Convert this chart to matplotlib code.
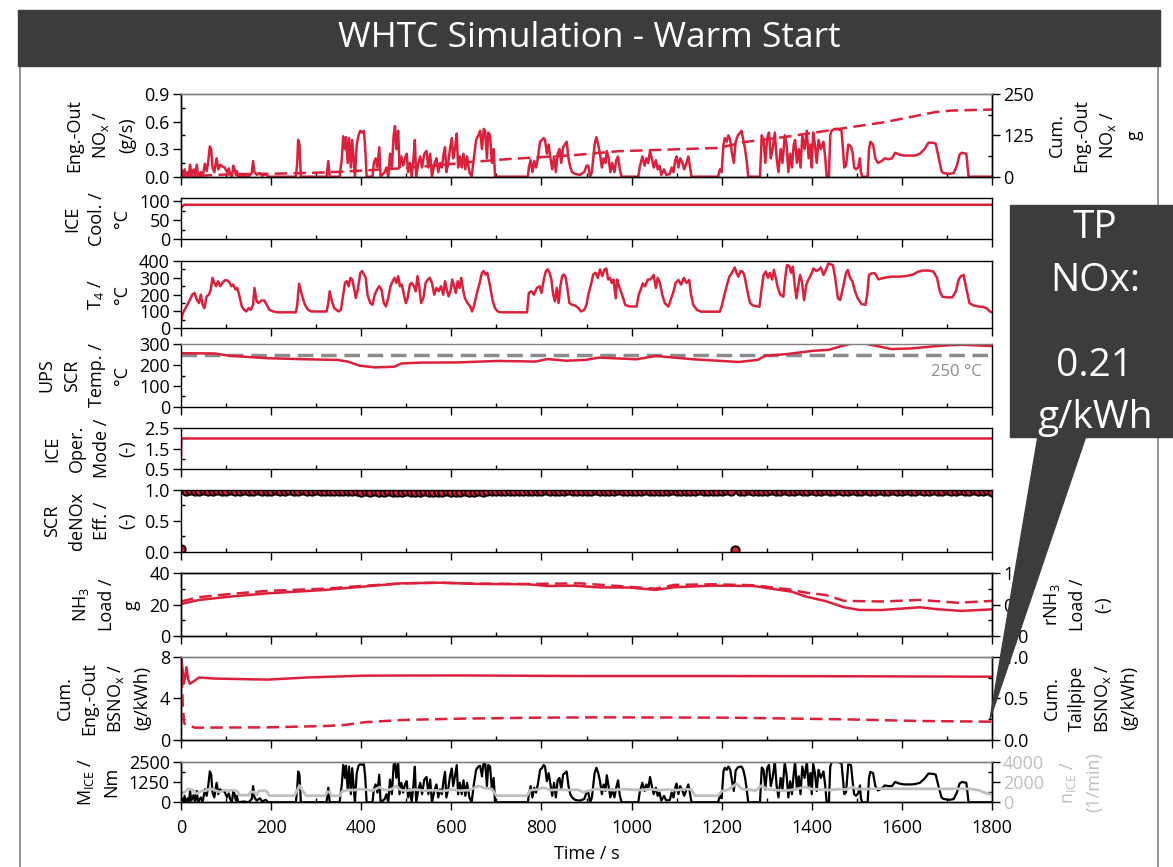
import matplotlib
matplotlib.use('Agg')
import matplotlib.pyplot as plt
import numpy as np
from matplotlib.patches import Rectangle, Polygon
from matplotlib.lines import Line2D
from matplotlib.ticker import MultipleLocator, FormatStrFormatter

# ---- data (time in s) ----

# engine-out NOx (g/s) and engine torque (Nm) share one time base
cyc_t = [0, 3, 5, 8, 11, 15, 18, 20, 23, 28,
         31, 35, 38, 44, 48, 53, 57, 60, 64, 67,
         70, 74, 79, 83, 87, 92, 97, 102, 106, 109,
         113, 116, 119, 122, 124, 127, 140, 150, 157, 160,
         163, 168, 175, 180, 188, 194, 255, 258, 260, 263,
         266, 323, 327, 330, 352, 357, 360, 364, 366, 370,
         373, 377, 380, 383, 386, 390, 394, 398, 402, 406,
         409, 412, 425, 428, 432, 436, 440, 443, 452, 456,
         460, 464, 468, 472, 475, 478, 482, 485, 489, 493,
         497, 501, 504, 508, 512, 516, 519, 522, 527, 531,
         535, 540, 545, 549, 553, 557, 563, 567, 571, 575,
         579, 583, 586, 589, 593, 597, 601, 604, 608, 612,
         615, 619, 623, 627, 631, 635, 640, 645, 650, 655,
         660, 664, 668, 672, 675, 679, 682, 686, 690, 694,
         697, 770, 772, 776, 780, 784, 788, 792, 797, 801,
         805, 808, 812, 816, 820, 824, 828, 832, 836, 840,
         844, 848, 852, 856, 860, 864, 868, 875, 885, 895,
         900, 904, 908, 912, 918, 922, 926, 930, 934, 938,
         942, 945, 949, 953, 957, 962, 966, 970, 974, 978,
         1015, 1018, 1024, 1029, 1033, 1037, 1041, 1045, 1049, 1054,
         1058, 1062, 1066, 1072, 1077, 1085, 1089, 1093, 1097, 1100,
         1104, 1108, 1113, 1117, 1122, 1126, 1130, 1133, 1192, 1196,
         1200, 1204, 1207, 1211, 1215, 1219, 1223, 1227, 1231, 1236,
         1241, 1244, 1248, 1252, 1256, 1259, 1285, 1289, 1293, 1297,
         1301, 1305, 1309, 1313, 1318, 1322, 1326, 1331, 1335, 1340,
         1344, 1348, 1352, 1356, 1360, 1363, 1367, 1371, 1375, 1379,
         1384, 1389, 1393, 1397, 1400, 1403, 1407, 1411, 1415, 1420,
         1426, 1430, 1433, 1438, 1441, 1444, 1450, 1458, 1466, 1470,
         1472, 1476, 1481, 1487, 1491, 1494, 1498, 1503, 1507, 1509,
         1512, 1524, 1527, 1530, 1536, 1541, 1547, 1555, 1562, 1570,
         1578, 1585, 1595, 1605, 1620, 1629, 1640, 1650, 1659, 1668,
         1675, 1682, 1688, 1692, 1705, 1715, 1722, 1728, 1733, 1743,
         1746, 1748, 1760, 1800]

nox_v = [0.0, 0.06, 0.0, 0.08, 0.0, 0.05, 0.0, 0.13, 0.02, 0.08,
         0.0, 0.13, 0.0, 0.05, 0.0, 0.14, 0.06, 0.15, 0.33, 0.30,
         0.10, 0.05, 0.20, 0.08, 0.13, 0.11, 0.10, 0.05, 0.09, 0.03,
         0.0, 0.12, 0.08, 0.02, 0.06, 0.0, 0.01, 0.0, 0.04, 0.17,
         0.05, 0.02, 0.04, 0.01, 0.03, 0.0, 0.0, 0.15, 0.40, 0.35,
         0.0, 0.0, 0.17, 0.0, 0.0, 0.20, 0.44, 0.30, 0.43, 0.15,
         0.42, 0.10, 0.40, 0.20, 0.0, 0.35, 0.45, 0.50, 0.48, 0.50,
         0.30, 0.0, 0.0, 0.15, 0.20, 0.10, 0.32, 0.0, 0.05, 0.10,
         0.0, 0.25, 0.10, 0.45, 0.55, 0.30, 0.50, 0.10, 0.22, 0.12,
         0.20, 0.25, 0.05, 0.15, 0.0, 0.20, 0.40, 0.0, 0.15, 0.22,
         0.10, 0.25, 0.28, 0.10, 0.25, 0.0, 0.15, 0.20, 0.05, 0.15,
         0.10, 0.25, 0.32, 0.05, 0.15, 0.30, 0.42, 0.20, 0.30, 0.47,
         0.10, 0.22, 0.10, 0.25, 0.08, 0.22, 0.05, 0.0, 0.20, 0.40,
         0.45, 0.50, 0.30, 0.52, 0.50, 0.20, 0.48, 0.45, 0.15, 0.30,
         0.0, 0.0, 0.10, 0.18, 0.05, 0.17, 0.10, 0.20, 0.38, 0.40,
         0.42, 0.40, 0.25, 0.35, 0.20, 0.08, 0.22, 0.05, 0.25, 0.30,
         0.15, 0.32, 0.35, 0.38, 0.20, 0.10, 0.05, 0.03, 0.02, 0.05,
         0.12, 0.12, 0.0, 0.05, 0.35, 0.43, 0.35, 0.25, 0.10, 0.20,
         0.15, 0.28, 0.20, 0.05, 0.15, 0.05, 0.18, 0.22, 0.08, 0.0,
         0.0, 0.10, 0.22, 0.12, 0.20, 0.15, 0.28, 0.20, 0.10, 0.18,
         0.08, 0.12, 0.02, 0.08, 0.02, 0.03, 0.10, 0.05, 0.18, 0.22,
         0.10, 0.20, 0.15, 0.08, 0.15, 0.22, 0.10, 0.0, 0.0, 0.08,
         0.05, 0.35, 0.42, 0.38, 0.45, 0.40, 0.25, 0.15, 0.38, 0.45,
         0.48, 0.50, 0.40, 0.30, 0.15, 0.0, 0.0, 0.45, 0.40, 0.15,
         0.42, 0.48, 0.20, 0.30, 0.48, 0.20, 0.05, 0.30, 0.15, 0.45,
         0.35, 0.05, 0.25, 0.10, 0.35, 0.40, 0.15, 0.30, 0.10, 0.45,
         0.30, 0.50, 0.20, 0.35, 0.10, 0.48, 0.35, 0.15, 0.40, 0.30,
         0.38, 0.20, 0.0, 0.0, 0.45, 0.50, 0.52, 0.52, 0.50, 0.25,
         0.10, 0.12, 0.35, 0.33, 0.25, 0.10, 0.08, 0.10, 0.20, 0.05,
         0.0, 0.0, 0.30, 0.38, 0.35, 0.20, 0.15, 0.17, 0.20, 0.19,
         0.20, 0.26, 0.24, 0.23, 0.23, 0.23, 0.25, 0.30, 0.37, 0.37,
         0.36, 0.20, 0.06, 0.04, 0.03, 0.04, 0.12, 0.24, 0.26, 0.25,
         0.10, 0.0, 0.0, 0.0]

torque_v = [0, 300, 0, 400, 0, 250, 50, 700, 100, 450,
            0, 700, 0, 300, 0, 800, 400, 900, 1900, 1700,
            600, 300, 1200, 500, 800, 700, 650, 300, 550, 200,
            0, 700, 500, 100, 400, 0, 50, 0, 200, 1000,
            300, 100, 250, 50, 150, 0, 0, 900, 1900, 1700,
            0, 0, 900, 0, 0, 1100, 2300, 1500, 2250, 800,
            2200, 500, 2100, 1000, 0, 1800, 2250, 2350, 2300, 2350,
            1500, 0, 0, 800, 1100, 600, 1700, 0, 200, 500,
            0, 1400, 500, 2300, 2500, 1500, 2450, 500, 1200, 600,
            1100, 1300, 300, 800, 0, 1100, 2190, 0, 800, 1200,
            500, 1400, 1560, 500, 1400, 0, 800, 1100, 300, 800,
            500, 1400, 1875, 300, 800, 1600, 2080, 1000, 1600, 2290,
            500, 1200, 500, 1350, 400, 1200, 300, 0, 1100, 2000,
            2200, 2250, 1600, 2500, 2500, 1000, 2300, 2200, 800, 1500,
            0, 0, 500, 1000, 300, 900, 600, 1100, 2000, 2100,
            2290, 2200, 1300, 1800, 1100, 400, 1200, 300, 1350, 1500,
            800, 1700, 1800, 1900, 1000, 500, 300, 150, 100, 200,
            600, 600, 0, 300, 1800, 2125, 1800, 1300, 500, 1100,
            700, 1670, 1000, 300, 800, 300, 900, 1350, 400, 0,
            0, 600, 1200, 700, 1100, 800, 1560, 1000, 500, 900,
            400, 600, 100, 400, 100, 150, 600, 300, 900, 1150,
            500, 1000, 700, 400, 800, 1100, 500, 0, 0, 400,
            250, 1900, 2125, 2000, 2200, 2000, 1300, 700, 1950, 2150,
            2190, 2200, 2000, 1500, 700, 0, 0, 2150, 2000, 800,
            2100, 2300, 1000, 1500, 2500, 1000, 300, 1500, 800, 2450,
            1700, 300, 1300, 500, 1800, 2500, 800, 1600, 500, 2200,
            1500, 2500, 1000, 1800, 500, 2400, 1800, 700, 2000, 1500,
            1900, 1000, 0, 0, 2200, 2460, 2500, 2480, 2400, 1200,
            500, 600, 2330, 2300, 1200, 500, 400, 550, 1040, 250,
            0, 0, 1500, 1875, 1800, 1000, 730, 850, 1040, 1000,
            1000, 1250, 1150, 1100, 1100, 1120, 1200, 1450, 1770, 1750,
            1710, 900, 300, 210, 150, 200, 600, 1150, 1250, 1200,
            500, 0, 0, 0]

# cumulative engine-out NOx (g)
cum_t = [0, 20, 70, 131, 206, 300, 353, 464, 575, 649, 723, 871, 970, 1193,
         1252, 1340, 1414, 1488, 1562, 1636, 1673, 1710, 1800]
cum_v = [0, 1, 5, 8, 9, 12, 15, 23, 35, 45, 53, 65, 77, 87,
         105, 120, 135, 150, 165, 185, 195, 200, 203]

# coolant temperature (degC)
cool_t = [0, 4, 8, 1800]
cool_v = [82, 88, 91, 91]

# exhaust temperature T4 (degC)
t4_t = [0, 3, 6, 12, 20, 25, 30, 35, 40, 44,
        48, 52, 57, 62, 66, 70, 74, 78, 82, 87,
        92, 97, 103, 108, 112, 116, 121, 125, 129, 135,
        140, 145, 150, 155, 160, 163, 168, 172, 178, 185,
        190, 196, 205, 215, 255, 258, 262, 268, 275, 282,
        290, 323, 327, 330, 335, 340, 350, 355, 360, 364,
        368, 372, 376, 380, 384, 388, 393, 398, 402, 406,
        410, 414, 420, 425, 430, 435, 440, 445, 450, 455,
        460, 465, 470, 474, 478, 482, 486, 490, 494, 499,
        503, 508, 512, 517, 521, 525, 529, 533, 538, 543,
        548, 552, 557, 562, 567, 572, 577, 582, 586, 590,
        594, 598, 602, 606, 610, 614, 618, 622, 626, 630,
        636, 642, 646, 650, 656, 662, 668, 672, 676, 680,
        686, 692, 697, 703, 710, 768, 772, 778, 783, 790,
        796, 800, 806, 810, 814, 818, 822, 826, 830, 834,
        838, 842, 846, 850, 854, 858, 862, 868, 875, 882,
        888, 895, 900, 904, 910, 915, 920, 925, 930, 935,
        940, 944, 948, 952, 956, 960, 965, 968, 972, 978,
        986, 995, 1005, 1011, 1016, 1020, 1025, 1030, 1036, 1042,
        1049, 1054, 1058, 1063, 1068, 1074, 1082, 1088, 1092, 1098,
        1104, 1110, 1116, 1122, 1128, 1132, 1137, 1145, 1154, 1196,
        1200, 1205, 1211, 1217, 1223, 1229, 1233, 1237, 1242, 1246,
        1250, 1255, 1263, 1270, 1278, 1284, 1288, 1293, 1298, 1303,
        1307, 1312, 1316, 1320, 1324, 1330, 1337, 1341, 1345, 1350,
        1354, 1358, 1362, 1366, 1370, 1374, 1378, 1383, 1388, 1392,
        1397, 1404, 1410, 1416, 1420, 1426, 1430, 1437, 1442, 1447,
        1452, 1458, 1463, 1470, 1476, 1480, 1485, 1490, 1496, 1502,
        1510, 1519, 1523, 1527, 1533, 1540, 1548, 1560, 1577, 1595,
        1611, 1625, 1635, 1645, 1660, 1670, 1678, 1684, 1690, 1700,
        1712, 1720, 1726, 1731, 1737, 1742, 1750, 1760, 1771, 1780,
        1788, 1796, 1800]
t4_v = [40, 80, 100, 130, 170, 200, 210, 170, 150, 200,
        140, 120, 190, 200, 230, 300, 270, 250, 280, 250,
        270, 285, 285, 270, 250, 260, 230, 240, 200, 130,
        110, 100, 120, 110, 140, 240, 160, 150, 165, 165,
        140, 110, 100, 95, 95, 140, 265, 200, 140, 110,
        100, 100, 150, 220, 160, 120, 100, 110, 200, 270,
        280, 250, 300, 290, 240, 180, 240, 330, 340, 320,
        300, 200, 150, 140, 200, 230, 250, 230, 150, 130,
        180, 250, 280, 300, 270, 310, 250, 260, 210, 150,
        180, 260, 270, 250, 220, 310, 240, 150, 180, 270,
        290, 300, 270, 200, 240, 220, 250, 200, 280, 230,
        190, 220, 290, 250, 210, 280, 240, 300, 230, 180,
        150, 130, 100, 130, 200, 260, 330, 340, 320, 330,
        250, 160, 120, 100, 95, 95, 210, 220, 200, 240,
        250, 210, 300, 340, 350, 330, 290, 200, 160, 240,
        150, 250, 310, 320, 300, 230, 150, 140, 135, 120,
        100, 110, 140, 200, 260, 320, 330, 300, 350, 310,
        350, 356, 290, 300, 270, 290, 178, 290, 250, 208,
        139, 130, 130, 129, 200, 228, 267, 250, 290, 290,
        317, 240, 300, 270, 200, 149, 129, 180, 208, 270,
        287, 260, 300, 270, 287, 200, 139, 110, 99, 99,
        130, 188, 250, 307, 330, 362, 330, 307, 340, 337,
        320, 250, 149, 135, 130, 129, 220, 317, 337, 300,
        330, 290, 347, 300, 248, 200, 188, 300, 376, 370,
        330, 366, 260, 178, 250, 317, 280, 168, 260, 287,
        310, 356, 340, 350, 362, 317, 340, 386, 380, 376,
        300, 178, 168, 250, 330, 347, 300, 280, 220, 178,
        145, 139, 200, 317, 327, 327, 291, 300, 307, 307,
        311, 320, 335, 343, 343, 337, 300, 220, 188, 184,
        184, 220, 290, 310, 317, 250, 149, 135, 129, 128,
        119, 99, 95]

# upstream SCR temperature (degC)
scr_t = [0, 74, 108, 193, 278, 346, 370, 397, 431, 473, 490, 533, 617, 702,
         787, 813, 855, 898, 927, 1011, 1053, 1137, 1238, 1280, 1297, 1345,
         1404, 1437, 1462, 1487, 1519, 1577, 1620, 1679, 1729, 1796, 1800]
scr_v = [257, 256, 245, 233, 228, 225, 217, 197, 189, 192, 208, 212, 213, 220,
         217, 229, 221, 225, 236, 228, 244, 228, 215, 225, 245, 253,
         269, 273, 289, 303, 303, 277, 280, 292, 298, 292, 292]
scr_limit = 250

# engine operating mode (-)
mode_t = [0, 1, 1800]
mode_v = [1.0, 2.0, 2.0]

# SCR deNOx efficiency, one value every 10 s
eff_t = np.arange(0, 1801, 10)
eff_v = [0.05, 0.99, 1.00, 0.99, 0.99, 1.00, 0.99, 0.99, 1.00, 0.99, 0.99, 1.00, 0.99, 0.99, 1.00, 0.99, 0.99, 1.00, 0.99, 0.99,
         0.99, 1.00, 0.99, 0.99, 1.00, 0.99, 0.99, 1.00, 0.99, 0.99, 1.00, 0.99, 0.99, 0.99, 0.98, 0.99, 0.99, 0.98, 0.98, 0.99,
         0.97, 0.98, 0.97, 0.98, 0.96, 0.97, 0.98, 0.97, 0.96, 0.97, 0.98, 0.97, 0.96, 0.97, 0.98, 0.97, 0.97, 0.96, 0.97, 0.98,
         0.97, 0.96, 0.97, 0.98, 0.97, 0.97, 0.98, 0.97, 0.98, 0.98, 0.99, 0.98, 0.99, 0.99, 0.98, 0.99, 0.99, 0.98, 0.99, 0.99,
         0.99, 1.00, 0.99, 0.99, 0.98, 0.99, 1.00, 0.99, 0.99, 0.98, 0.99, 0.99, 1.00, 0.99, 0.98, 0.99, 0.99, 1.00, 0.99, 0.99,
         0.98, 0.99, 0.99, 1.00, 0.99, 0.99, 0.98, 0.99, 0.99, 1.00, 0.99, 0.99, 0.98, 0.99, 0.99, 1.00, 0.99, 0.99, 0.98, 0.99,
         0.99, 1.00, 0.99, 0.03, 0.99, 0.99, 1.00, 0.99, 0.99, 0.98, 0.99, 1.00, 0.99, 0.99, 1.00, 0.99, 0.99, 1.00, 0.99, 0.99,
         1.00, 0.99, 0.99, 1.00, 0.99, 0.99, 1.00, 0.99, 0.99, 1.00, 0.99, 0.99, 1.00, 0.99, 0.99, 1.00, 0.99, 0.99, 1.00, 0.99,
         0.99, 1.00, 0.99, 0.99, 1.00, 0.99, 0.99, 1.00, 0.99, 0.99, 1.00, 0.99, 0.99, 1.00, 0.99, 0.99, 1.00, 0.99, 0.99, 1.00,
         0.97]

# NH3 load (g) and relative NH3 load (-)
nh3_t = [0, 40, 108, 193, 320, 405, 490, 575, 660, 770, 813, 872, 930, 995, 1053,
         1095, 1179, 1271, 1305, 1355, 1388, 1430, 1472, 1506, 1556, 1640, 1682, 1732, 1800]
nh3_v = [20.4, 23.0, 25.1, 27.2, 29.4, 31.5, 33.6, 34.0, 33.2, 33.0, 31.9, 32.1, 31.0, 30.9, 29.4,
         31.1, 32.1, 31.9, 30.4, 28.3, 25.1, 22.3, 18.3, 16.6, 16.6, 18.3, 17.0, 16.0, 17.0]
rnh3_t = [0, 40, 108, 193, 320, 405, 490, 575, 660, 770, 885, 1053, 1095, 1179, 1271,
          1347, 1388, 1430, 1472, 1556, 1640, 1724, 1800]
rnh3_v = [0.55, 0.62, 0.67, 0.72, 0.755, 0.80, 0.84, 0.85, 0.835, 0.83, 0.84, 0.755, 0.815, 0.825, 0.81,
          0.745, 0.69, 0.655, 0.56, 0.55, 0.575, 0.53, 0.56]

# cumulative brake specific NOx (g/kWh)
bs_eo_t = [0, 3, 6, 9, 12, 16, 20, 27, 40, 74, 193, 278, 405, 617, 900, 1200, 1500, 1800]
bs_eo_v = [8.0, 7.0, 5.4, 6.0, 7.0, 5.8, 5.4, 5.6, 6.0, 5.9, 5.8, 6.0, 6.18, 6.2, 6.14, 6.14, 6.12, 6.08]
bs_tp_t = [0, 2, 4, 7, 14, 31, 193, 320, 363, 405, 490, 617, 787, 930, 1221, 1473, 1641, 1797, 1800]
bs_tp_v = [1.0, 0.7, 0.4, 0.2, 0.18, 0.148, 0.152, 0.168, 0.18, 0.212, 0.24, 0.256, 0.268, 0.272,
           0.268, 0.248, 0.228, 0.22, 0.22]

# engine speed (1/min)
spd_t = [0, 8, 15, 25, 35, 45, 55, 65, 75, 85,
         95, 105, 115, 125, 130, 150, 155, 162, 168, 172,
         182, 190, 196, 252, 258, 263, 270, 278, 320, 325,
         330, 334, 353, 358, 370, 385, 395, 410, 425, 441,
         450, 465, 478, 488, 500, 520, 540, 560, 580, 600,
         620, 640, 660, 675, 690, 700, 768, 775, 790, 804,
         820, 840, 860, 880, 893, 905, 920, 940, 960, 980,
         1000, 1020, 1040, 1060, 1080, 1100, 1120, 1133, 1141, 1192,
         1200, 1215, 1233, 1245, 1260, 1275, 1289, 1300, 1320, 1340,
         1360, 1385, 1400, 1420, 1440, 1460, 1475, 1490, 1500, 1520,
         1550, 1600, 1650, 1700, 1750, 1770, 1790, 1800]
spd_v = [450, 1000, 1300, 1250, 850, 1100, 1150, 1350, 1200, 1000,
         1200, 1150, 1200, 1100, 700, 700, 1050, 1000, 700, 1100,
         1150, 1100, 650, 650, 1200, 1650, 1100, 650, 650, 1050,
         1000, 650, 650, 1100, 1200, 1200, 1300, 1250, 1150, 1500,
         1200, 1250, 1600, 1200, 1150, 1250, 1150, 1200, 1100, 1250,
         1150, 1200, 1600, 1400, 1300, 650, 650, 1200, 1250, 1450,
         1200, 1250, 1200, 1250, 1000, 1150, 1300, 1250, 1200, 1300,
         1250, 1200, 1300, 1200, 1250, 1200, 1300, 1250, 650, 650,
         1100, 1250, 1830, 1300, 1250, 1150, 1650, 1300, 1200, 1150,
         1250, 1500, 1300, 1250, 1200, 1300, 1250, 1500, 1300, 1300,
         1350, 1330, 1330, 1330, 1330, 1200, 850, 800]

tp_result = ['TP', 'NOx:', '0.21', 'g/kWh']

# ---- figure ----
W, H = 1173, 867
RED = '#dc203c'
LIGHT = '#bfbfbf'
DARK = '#3c3c3c'
SUB = r'$\mathregular{_x}$'

plt.rcParams['font.family'] = ['Open Sans', 'DejaVu Sans']
plt.rcParams['font.size'] = 13
plt.rcParams['axes.linewidth'] = 1.0

fig = plt.figure(figsize=(W / 100, H / 100), dpi=100)


def px_axes(top, bottom):
    # place an axes from pixel rows of the reference
    return fig.add_axes([181 / W, 1 - bottom / H, 811 / W, (bottom - top) / H])


def set_ticks(ax, lo, hi, major, minor, fmt=None, side='left', color='black', offset=0.0):
    ax.set_xlim(0, 1800)
    ax.set_ylim(lo, hi)
    ax.xaxis.set_major_locator(MultipleLocator(200))
    ax.xaxis.set_minor_locator(MultipleLocator(100))
    ax.yaxis.set_major_locator(MultipleLocator(major, offset=offset))
    ax.yaxis.set_minor_locator(MultipleLocator(minor))
    if fmt:
        ax.yaxis.set_major_formatter(FormatStrFormatter(fmt))
    ax.tick_params(which='major', direction='out', length=6, width=1, labelsize=13, pad=2)
    ax.tick_params(which='minor', direction='in', length=3, width=1)
    if side == 'right':
        ax.yaxis.tick_right()
    ax.tick_params(axis='y', which='both', colors='black', labelcolor=color)
    ax.tick_params(axis='x', top=False, labelbottom=False)


def ylabel(ax, text, pad=6, color='black', right=False):
    ax.set_ylabel(text, fontsize=13, linespacing=1.5, labelpad=pad, color=color)
    if right:
        ax.yaxis.set_label_position('right')


rows = [(94.0, 176.7), (198.3, 239.3), (261.0, 328.3), (344.3, 406.7), (428.3, 469.0),
        (490.0, 551.7), (573.3, 636.0), (656.7, 740.0), (761.7, 802.3)]
axs = [px_axes(t, b) for t, b in rows]

# 1 - engine-out NOx
ax = axs[0]
ax.plot(cyc_t, nox_v, color=RED, lw=1.8)
set_ticks(ax, 0, 0.9, 0.3, 0.15, '%.1f')
ylabel(ax, 'Eng.-Out\nNO' + SUB + ' /\n(g/s)')
tw = ax.twinx()
tw.plot(cum_t, cum_v, color=RED, lw=1.8, dashes=(5, 2.5))
set_ticks(tw, 0, 250, 125, 62.5, side='right')
ylabel(tw, 'Cum.\nEng.-Out\nNO' + SUB + ' /\ng', pad=10, right=True)
for a in (ax, tw):
    a.spines['top'].set_color('#808080')

# 2 - coolant
ax = axs[1]
ax.plot(cool_t, cool_v, color=RED, lw=1.8)
set_ticks(ax, 0, 108, 50, 25)
ylabel(ax, 'ICE\nCool. /\n°C')

# 3 - T4
ax = axs[2]
ax.plot(t4_t, t4_v, color=RED, lw=1.8)
set_ticks(ax, 0, 400, 100, 50)
ylabel(ax, 'T$\\mathregular{_4}$ /\n°C')

# 4 - upstream SCR temperature
ax = axs[3]
ax.axhline(scr_limit, color='#8c8c8c', lw=2.5, dashes=(4.5, 2.2))
ax.plot(scr_t, scr_v, color=RED, lw=1.8)
ax.text(1778, 167, '%d °C' % scr_limit, ha='right', va='center', color='#8c8c8c', fontsize=12)
set_ticks(ax, 0, 300, 100, 50)
ylabel(ax, 'UPS\nSCR\nTemp. /\n°C')
ax.spines['top'].set_color('#808080')

# 5 - operating mode
ax = axs[4]
ax.plot(mode_t, mode_v, color=RED, lw=1.8)
set_ticks(ax, 0.5, 2.5, 1.0, 0.5, '%.1f', offset=0.5)
ylabel(ax, 'ICE\nOper.\nMode /\n(-)')

# 6 - deNOx efficiency
ax = axs[5]
ax.plot(eff_t, eff_v, ls='none', marker='o', ms=6, mfc=RED, mec='#140303', mew=1.4)
set_ticks(ax, 0, 1.0, 0.5, 0.25, '%.1f')
ylabel(ax, 'SCR\ndeNOx\nEff. /\n(-)')

# 7 - NH3 load
ax = axs[6]
ax.plot(nh3_t, nh3_v, color=RED, lw=1.8)
set_ticks(ax, 0, 40, 20, 10)
ylabel(ax, 'NH$\\mathregular{_3}$\nLoad /\ng')
tw = ax.twinx()
tw.plot(rnh3_t, rnh3_v, color=RED, lw=1.8, dashes=(5, 2.5))
set_ticks(tw, 0, 1.0, 0.5, 0.25, '%.1f', side='right')
ylabel(tw, 'rNH$\\mathregular{_3}$\nLoad /\n(-)', pad=10, right=True)

# 8 - brake specific NOx
ax = axs[7]
ax.plot(bs_eo_t, bs_eo_v, color=RED, lw=1.8)
set_ticks(ax, 0, 8, 4, 2)
ylabel(ax, 'Cum.\nEng.-Out\nBSNO' + SUB + ' /\n(g/kWh)')
tw = ax.twinx()
tw.plot(bs_tp_t, bs_tp_v, color=RED, lw=1.8, dashes=(5, 2.5))
set_ticks(tw, 0, 1.0, 0.5, 0.25, '%.1f', side='right')
ylabel(tw, 'Cum.\nTailpipe\nBSNO' + SUB + ' /\n(g/kWh)', pad=10, right=True)
for a in (ax, tw):
    a.spines['top'].set_color('#808080')

# 9 - torque and speed
ax = axs[8]
ax.plot(cyc_t, torque_v, color='black', lw=1.6)
set_ticks(ax, 0, 2500, 1250, 625)
ylabel(ax, 'M$\\mathregular{_{ICE}}$ /\nNm')
ax.tick_params(axis='x', labelbottom=True, labelsize=13, pad=6)
ax.set_xlabel('Time / s', fontsize=13, labelpad=6)
tw = ax.twinx()
tw.plot(spd_t, spd_v, color=LIGHT, lw=2.0)
set_ticks(tw, 0, 4000, 2000, 1000, side='right', color=LIGHT)
ylabel(tw, 'n$\\mathregular{_{ICE}}$ /\n(1/min)', pad=10, color=LIGHT, right=True)
for a in (ax, tw):
    a.spines['top'].set_color('#808080')

# ---- frame, title bar and callout ----
for x in (20, 1158):
    fig.add_artist(Line2D([x / W, x / W], [0, 1 - 66 / H], color='#808080', lw=1.2, zorder=1))
fig.add_artist(Rectangle((18 / W, 1 - 66 / H), (1160 - 18) / W, 56 / H, transform=fig.transFigure,
                         color=DARK, zorder=2))
fig.text(589 / W, 1 - 38 / H, 'WHTC Simulation - Warm Start', color='white', fontsize=25.5,
         ha='center', va='center', zorder=3)

fig.add_artist(Rectangle((1010 / W, 1 - 437 / H), 175 / W, (437 - 205) / H, transform=fig.transFigure,
                         color=DARK, zorder=10))
fig.add_artist(Polygon([(1038 / W, 1 - 436 / H), (1086 / W, 1 - 436 / H), (990 / W, 1 - 719 / H)],
                       closed=True, transform=fig.transFigure, color=DARK, zorder=10))
for txt, y in zip(tp_result, (228, 281, 366, 418)):
    fig.text(1095 / W, 1 - y / H, txt, color='white', fontsize=28, ha='center', va='center', zorder=11)

fig.savefig('out.png', dpi=100)
